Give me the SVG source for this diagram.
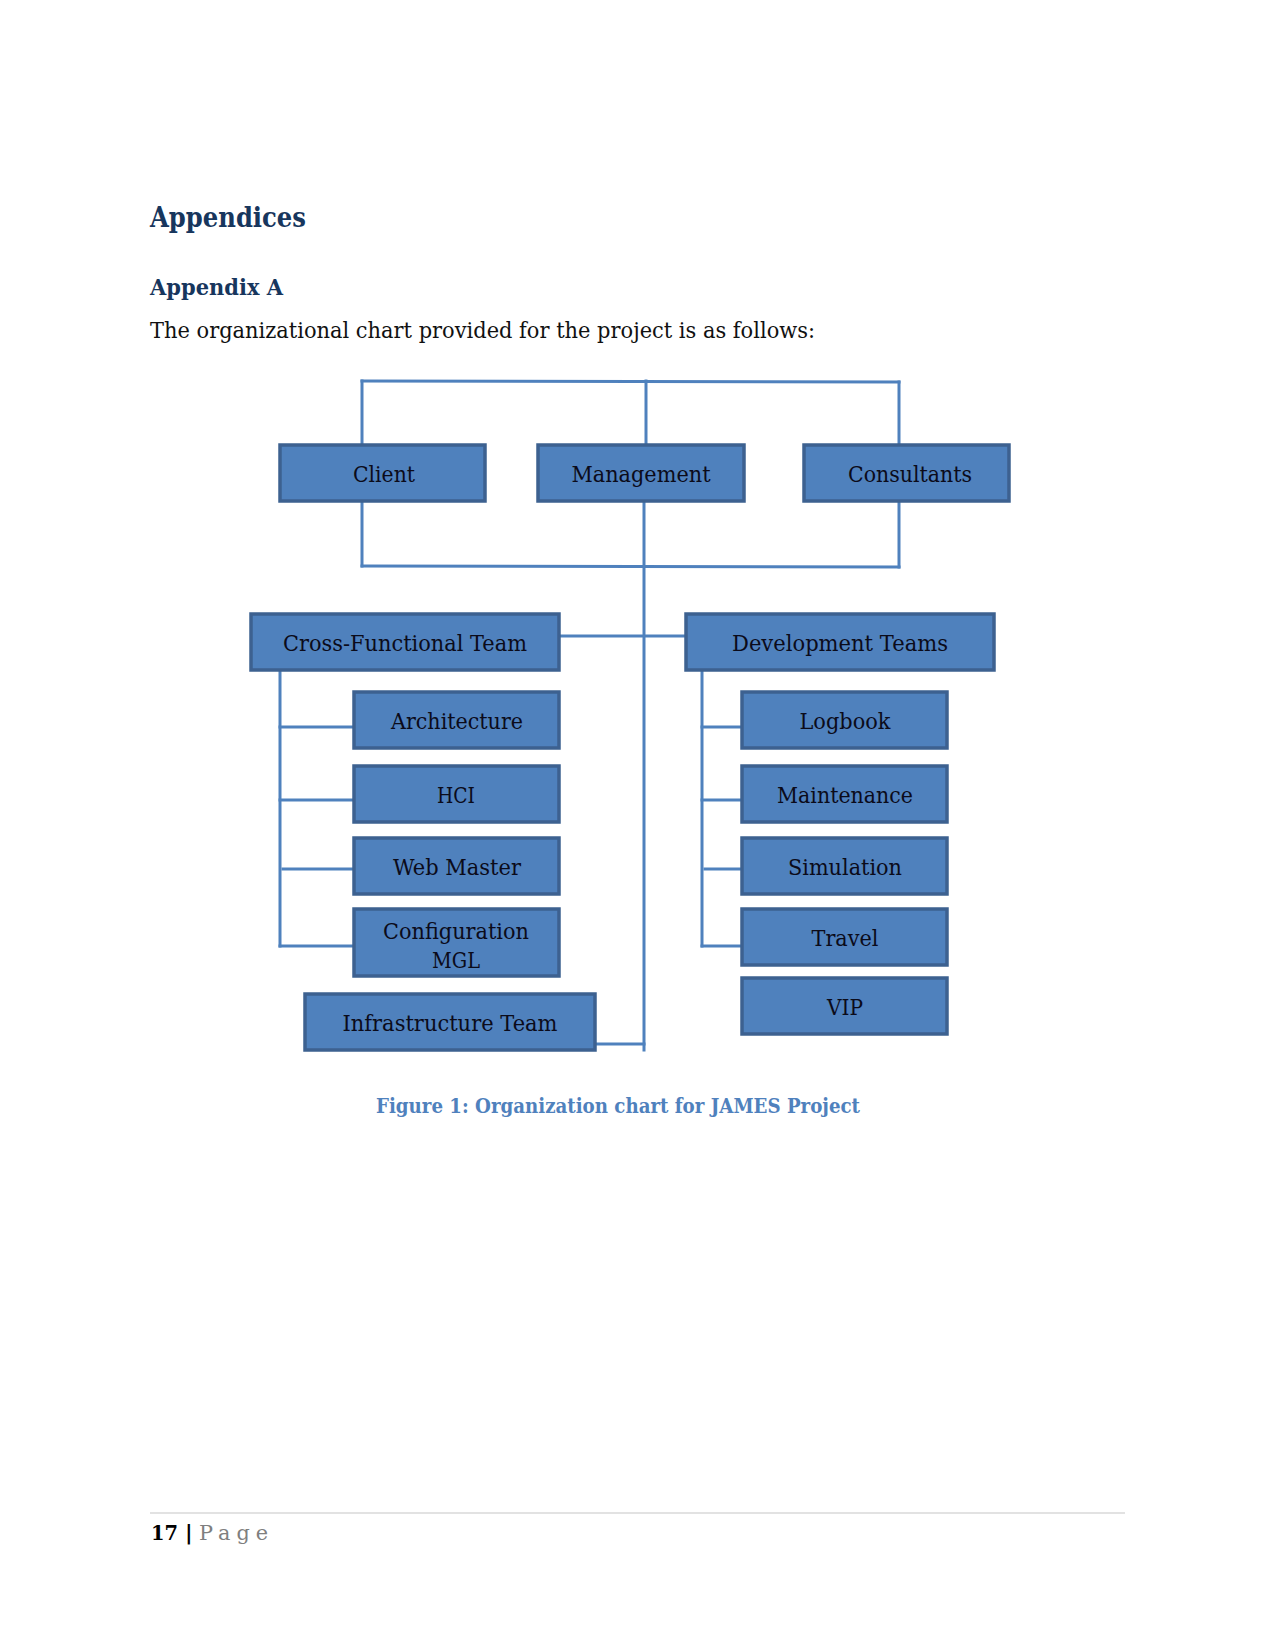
<svg xmlns="http://www.w3.org/2000/svg" width="1275" height="1650" viewBox="0 0 1275 1650">
<style>
.bg{fill:#ffffff}
.head{font-family:"DejaVu Serif","Liberation Serif",serif;font-weight:bold;fill:#17365D}
.body{font-family:"DejaVu Serif","Liberation Serif",serif;fill:#111111}
.box rect{fill:#4F81BD;stroke:#3D6190;stroke-width:3.5}
.box text{font-family:"DejaVu Serif","Liberation Serif",serif;font-size:23px;fill:#0B0B1A;text-anchor:middle}
.conn line{stroke:#4F81BD;stroke-width:3;stroke-linecap:square}
.cap{font-family:"DejaVu Serif","Liberation Serif",serif;font-weight:bold;font-size:20px;fill:#4F81BD}
</style>
<rect class="bg" x="0" y="0" width="1275" height="1650"/>
<text class="head" x="150" y="227" font-size="28" textLength="156" lengthAdjust="spacingAndGlyphs">Appendices</text>
<text class="head" x="150" y="295" font-size="22.5" textLength="133" lengthAdjust="spacingAndGlyphs">Appendix A</text>
<text class="body" x="150" y="338" font-size="21.5" textLength="665" lengthAdjust="spacingAndGlyphs">The organizational chart provided for the project is as follows:</text>

<g id="connectors" class="conn">
<line x1="362" y1="381" x2="899" y2="382"/>
<line x1="362" y1="381" x2="362" y2="444"/>
<line x1="646" y1="381" x2="646" y2="444"/>
<line x1="899" y1="382" x2="899" y2="444"/>
<line x1="362" y1="503" x2="362" y2="566"/>
<line x1="899" y1="503" x2="899" y2="567"/>
<line x1="362" y1="566" x2="899" y2="567"/>
<line x1="644" y1="503" x2="644" y2="1050"/>
<line x1="561" y1="636" x2="685" y2="636"/>
<line x1="280" y1="672" x2="280" y2="946"/>
<line x1="280" y1="727" x2="352" y2="727"/>
<line x1="280" y1="800" x2="352" y2="800"/>
<line x1="283" y1="869" x2="352" y2="869"/>
<line x1="280" y1="946" x2="352" y2="946"/>
<line x1="702" y1="672" x2="702" y2="946"/>
<line x1="702" y1="727" x2="740" y2="727"/>
<line x1="702" y1="800" x2="740" y2="800"/>
<line x1="705" y1="869" x2="740" y2="869"/>
<line x1="702" y1="946" x2="740" y2="946"/>
<line x1="597" y1="1044" x2="644" y2="1044"/>
</g>

<g id="client" class="box"><rect x="280" y="445" width="205" height="56"/><text x="384" y="482" textLength="62" lengthAdjust="spacingAndGlyphs">Client</text></g>
<g id="management" class="box"><rect x="538" y="445" width="206" height="56"/><text x="641" y="482" textLength="139" lengthAdjust="spacingAndGlyphs">Management</text></g>
<g id="consultants" class="box"><rect x="804" y="445" width="205" height="56"/><text x="910" y="482" textLength="124" lengthAdjust="spacingAndGlyphs">Consultants</text></g>

<g id="cross-functional" class="box"><rect x="251" y="614" width="308" height="56"/><text x="405" y="651" textLength="244" lengthAdjust="spacingAndGlyphs">Cross-Functional Team</text></g>
<g id="development" class="box"><rect x="686" y="614" width="308" height="56"/><text x="840" y="651" textLength="216" lengthAdjust="spacingAndGlyphs">Development Teams</text></g>

<g id="architecture" class="box"><rect x="354" y="692" width="205" height="56"/><text x="457" y="729" textLength="132" lengthAdjust="spacingAndGlyphs">Architecture</text></g>
<g id="hci" class="box"><rect x="354" y="766" width="205" height="56"/><text x="456" y="803" textLength="38" lengthAdjust="spacingAndGlyphs">HCI</text></g>
<g id="webmaster" class="box"><rect x="354" y="838" width="205" height="56"/><text x="457" y="875" textLength="128" lengthAdjust="spacingAndGlyphs">Web Master</text></g>
<g id="configuration" class="box"><rect x="354" y="909" width="205" height="67"/><text x="456" y="939" textLength="146" lengthAdjust="spacingAndGlyphs">Configuration</text><text x="456" y="968" textLength="48" lengthAdjust="spacingAndGlyphs">MGL</text></g>
<g id="infrastructure" class="box"><rect x="305" y="994" width="290" height="56"/><text x="450" y="1031" textLength="215" lengthAdjust="spacingAndGlyphs">Infrastructure Team</text></g>

<g id="logbook" class="box"><rect x="742" y="692" width="205" height="56"/><text x="845" y="729" textLength="91" lengthAdjust="spacingAndGlyphs">Logbook</text></g>
<g id="maintenance" class="box"><rect x="742" y="766" width="205" height="56"/><text x="845" y="803" textLength="136" lengthAdjust="spacingAndGlyphs">Maintenance</text></g>
<g id="simulation" class="box"><rect x="742" y="838" width="205" height="56"/><text x="845" y="875" textLength="114" lengthAdjust="spacingAndGlyphs">Simulation</text></g>
<g id="travel" class="box"><rect x="742" y="909" width="205" height="56"/><text x="845" y="946" textLength="67" lengthAdjust="spacingAndGlyphs">Travel</text></g>
<g id="vip" class="box"><rect x="742" y="978" width="205" height="56"/><text x="845" y="1015" textLength="36" lengthAdjust="spacingAndGlyphs">VIP</text></g>

<text class="cap" x="376" y="1113" textLength="484" lengthAdjust="spacingAndGlyphs">Figure 1: Organization chart for JAMES Project</text>

<line x1="150" y1="1513" x2="1125" y2="1513" stroke="#D9D9D9" stroke-width="1.5"/>
<text x="151" y="1540" font-family="DejaVu Serif, Liberation Serif, serif" font-weight="bold" font-size="21" fill="#000000" textLength="27" lengthAdjust="spacingAndGlyphs">17</text>
<text x="185" y="1540" font-family="DejaVu Serif, Liberation Serif, serif" font-weight="bold" font-size="21" fill="#000000">|</text>
<text x="199" y="1540" font-family="DejaVu Serif, Liberation Serif, serif" font-size="21" fill="#7F7F7F" textLength="75" lengthAdjust="spacingAndGlyphs" letter-spacing="6">Page</text>
</svg>
